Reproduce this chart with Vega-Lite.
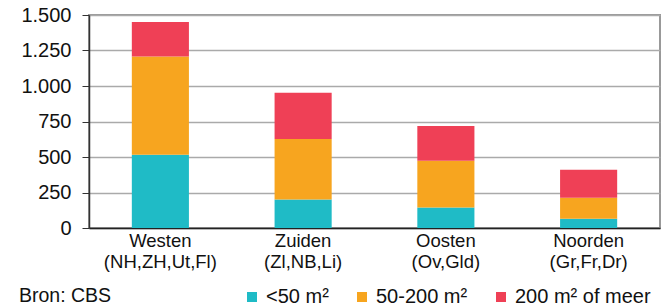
{
  "$schema": "https://vega.github.io/schema/vega-lite/v6.json",
  "width": 571,
  "height": 213,
  "autosize": {"type": "none"},
  "padding": {"left": 89, "top": 15, "right": 2, "bottom": 79},
  "background": "white",
  "title": {
    "text": "Bron: CBS",
    "orient": "bottom",
    "anchor": "start",
    "frame": "group",
    "dx": -70,
    "dy": -24,
    "fontSize": 19.5,
    "fontWeight": "normal",
    "font": "Liberation Sans",
    "color": "#111"
  },
  "data": {
    "values": [
      {"regio": "Westen|(NH,ZH,Ut,Fl)", "klasse": "<50 m²", "k": 1, "aantal": 516},
      {"regio": "Westen|(NH,ZH,Ut,Fl)", "klasse": "50-200 m²", "k": 2, "aantal": 692},
      {"regio": "Westen|(NH,ZH,Ut,Fl)", "klasse": "200 m² of meer", "k": 3, "aantal": 243},
      {"regio": "Zuiden|(Zl,NB,Li)", "klasse": "<50 m²", "k": 1, "aantal": 200},
      {"regio": "Zuiden|(Zl,NB,Li)", "klasse": "50-200 m²", "k": 2, "aantal": 427},
      {"regio": "Zuiden|(Zl,NB,Li)", "klasse": "200 m² of meer", "k": 3, "aantal": 326},
      {"regio": "Oosten|(Ov,Gld)", "klasse": "<50 m²", "k": 1, "aantal": 145},
      {"regio": "Oosten|(Ov,Gld)", "klasse": "50-200 m²", "k": 2, "aantal": 329},
      {"regio": "Oosten|(Ov,Gld)", "klasse": "200 m² of meer", "k": 3, "aantal": 244},
      {"regio": "Noorden|(Gr,Fr,Dr)", "klasse": "<50 m²", "k": 1, "aantal": 65},
      {"regio": "Noorden|(Gr,Fr,Dr)", "klasse": "50-200 m²", "k": 2, "aantal": 148},
      {"regio": "Noorden|(Gr,Fr,Dr)", "klasse": "200 m² of meer", "k": 3, "aantal": 197}
    ]
  },
  "mark": {"type": "bar"},
  "encoding": {
    "x": {
      "field": "regio",
      "type": "nominal",
      "sort": null,
      "scale": {"paddingInner": 0.6, "paddingOuter": 0.3},
      "axis": {
        "title": null,
        "labelAngle": 0,
        "ticks": false,
        "domainColor": "#222",
        "domainWidth": 1.5,
        "labelFont": "Liberation Sans",
        "labelFontSize": 18.5,
        "labelColor": "#111",
        "labelPadding": 3,
        "labelLineHeight": 21,
        "labelExpr": "split(datum.label, '|')"
      }
    },
    "y": {
      "field": "aantal",
      "type": "quantitative",
      "stack": "zero",
      "scale": {"domain": [0, 1500], "nice": false},
      "axis": {
        "title": null,
        "values": [0, 250, 500, 750, 1000, 1250, 1500],
        "labelExpr": "replace(format(datum.value, ','), ',', '.')",
        "labelFont": "Liberation Sans",
        "labelFontSize": 20,
        "labelColor": "#111",
        "labelPadding": 11,
        "tickSize": 7,
        "tickColor": "#333",
        "domainColor": "#333",
        "domainWidth": 1.5,
        "grid": true,
        "gridColor": "#aaaaaa",
        "gridWidth": 1.5
      }
    },
    "color": {
      "field": "klasse",
      "type": "nominal",
      "sort": ["<50 m²", "50-200 m²", "200 m² of meer"],
      "scale": {
        "domain": ["<50 m²", "50-200 m²", "200 m² of meer"],
        "range": ["#1FBBC6", "#F7A51F", "#EF4056"]
      },
      "legend": {
        "title": null,
        "orient": "none",
        "direction": "horizontal",
        "legendX": 153,
        "legendY": 272,
        "symbolType": "square",
        "symbolSize": 100,
        "symbolStrokeWidth": 0,
        "labelFont": "Liberation Sans",
        "labelFontSize": 20,
        "labelColor": "#111",
        "labelOffset": 4,
        "columnPadding": 23
      }
    },
    "order": {"field": "k", "type": "quantitative", "sort": "ascending"}
  },
  "config": {
    "view": {"stroke": "#999999", "strokeWidth": 2},
    "axis": {"gridDash": []}
  }
}
